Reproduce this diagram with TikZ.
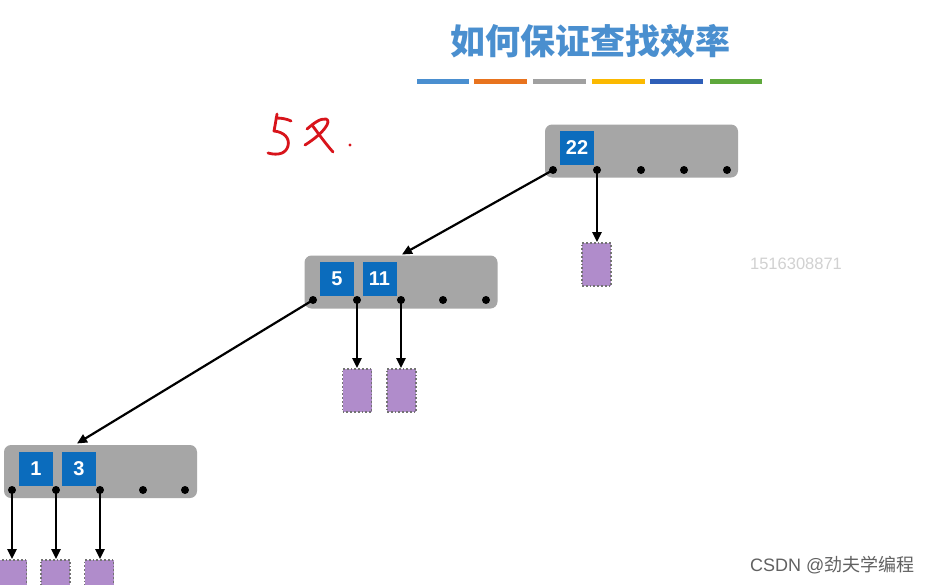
\documentclass[tikz,border=0pt]{standalone}
\usepackage{fontspec}
\setmainfont{Liberation Sans}
\newfontfamily\cjk{Noto Sans CJK SC}
\usetikzlibrary{arrows.meta}
\definecolor{titleblue}{HTML}{4A8FCF}
\definecolor{bar1}{HTML}{4A8FD0}
\definecolor{bar2}{HTML}{E8731E}
\definecolor{bar3}{HTML}{A0A0A0}
\definecolor{bar4}{HTML}{FBB900}
\definecolor{bar5}{HTML}{2E5FB8}
\definecolor{bar6}{HTML}{5EA83C}
\definecolor{nodegray}{HTML}{A6A6A6}
\definecolor{keyblue}{HTML}{0B6CBD}
\definecolor{leafpurple}{HTML}{B08CCB}
\definecolor{inkred}{HTML}{D8141B}
\tikzset{
  treenode/.style={fill=nodegray, rounded corners=7pt, minimum width=193pt, minimum height=53pt, inner sep=0pt},
  keybox/.style={fill=keyblue, text=white, font=\fontsize{20}{22}\selectfont\bfseries, minimum width=34pt, minimum height=34pt, inner sep=0pt},
  ptr/.style={circle, fill=black, minimum size=8pt, inner sep=0pt},
  leaf/.style={fill=leafpurple, draw=black!55, dotted, line width=1.8pt, minimum width=29pt, minimum height=43pt, inner sep=0pt},
  arr/.style={draw=black, line width=2.2pt, -{Triangle[length=10pt,width=9pt]}},
  bar/.style={line width=5pt}
}
\begin{document}
\begin{tikzpicture}[x=1pt,y=-1pt]
\useasboundingbox (0,0) rectangle (933,584);
\fill[white] (0,0) rectangle (933,584);
% title
\node[text=titleblue, font=\cjk\bfseries\fontsize{35}{40}\selectfont] (title) at (590,41) {如何保证查找效率};
\draw[bar, bar1] (417,81) -- (469,81);
\draw[bar, bar2] (474,81) -- (527,81);
\draw[bar, bar3] (533,81) -- (586,81);
\draw[bar, bar4] (592,81) -- (645,81);
\draw[bar, bar5] (650,81) -- (703,81);
\draw[bar, bar6] (710,81) -- (762,81);
% handwriting
\begin{scope}[inkred, line width=2.8pt, line cap=round, line join=round]
\draw (276,118) .. controls (282,118) and (287,119) .. (291,121);
\draw (277,114) .. controls (276,120) and (275,126) .. (274,131) .. controls (284,132) and (290,138) .. (288,146) .. controls (286,153) and (279,156) .. (268,153);
\draw (307,129) .. controls (313,124) and (320,118) .. (326,119) .. controls (332,121) and (324,133) .. (305,145);
\draw (312,125) .. controls (318,133) and (325,143) .. (333,152);
\fill (350,145) circle (1.6pt);
\end{scope}
% root
\node[treenode] (root) at (641.5,151) {};
\node[keybox] (k22) at (577,148) {22};
\foreach \i/\x in {1/553,2/597,3/641,4/684,5/727} \node[ptr] (r\i) at (\x,170) {};
\node[leaf] (lr) at (596.5,264.5) {};
% middle
\node[treenode] (mid) at (401,282) {};
\node[keybox] (k5) at (337,279) {5};
\node[keybox] (k11) at (379.5,279) {11};
\foreach \i/\x in {1/313,2/357,3/401,4/443,5/486} \node[ptr] (m\i) at (\x,300) {};
\node[leaf] (lm1) at (357,390.5) {};
\node[leaf] (lm2) at (401.5,390.5) {};
% bottom
\node[treenode] (bot) at (100.5,471.5) {};
\node[keybox] (k1) at (36,468.5) {1};
\node[keybox] (k3) at (79,468.5) {3};
\foreach \i/\x in {1/12,2/56,3/100,4/143,5/185} \node[ptr] (b\i) at (\x,490) {};
\node[leaf] (lb1) at (12,581.5) {};
\node[leaf] (lb2) at (55.5,581.5) {};
\node[leaf] (lb3) at (99,581.5) {};
% connectors
\coordinate (midtop) at (402,254.5);
\coordinate (bottop) at (77,443.5);
\draw[arr] (r1.center) -- (midtop);
\draw[arr] (r2.center) -- (r2.center |- lr.north);
\draw[arr] (m1.center) -- (bottop);
\draw[arr] (m2.center) -- (m2.center |- lm1.north);
\draw[arr] (m3.center) -- (m3.center |- lm2.north);
\draw[arr] (b1.center) -- (b1.center |- lb1.north);
\draw[arr] (b2.center) -- (b2.center |- lb2.north);
\draw[arr] (b3.center) -- (b3.center |- lb3.north);
% watermarks
\node[text=black!18, font=\fontsize{16.5}{18}\selectfont] (wm) at (796,264) {1516308871};
\node[text=black!62, font=\fontsize{18}{20}\selectfont, anchor=east] (csdn) at (918,565) {CSDN @{\cjk 劲夫学编程}};
\end{tikzpicture}
\end{document}
